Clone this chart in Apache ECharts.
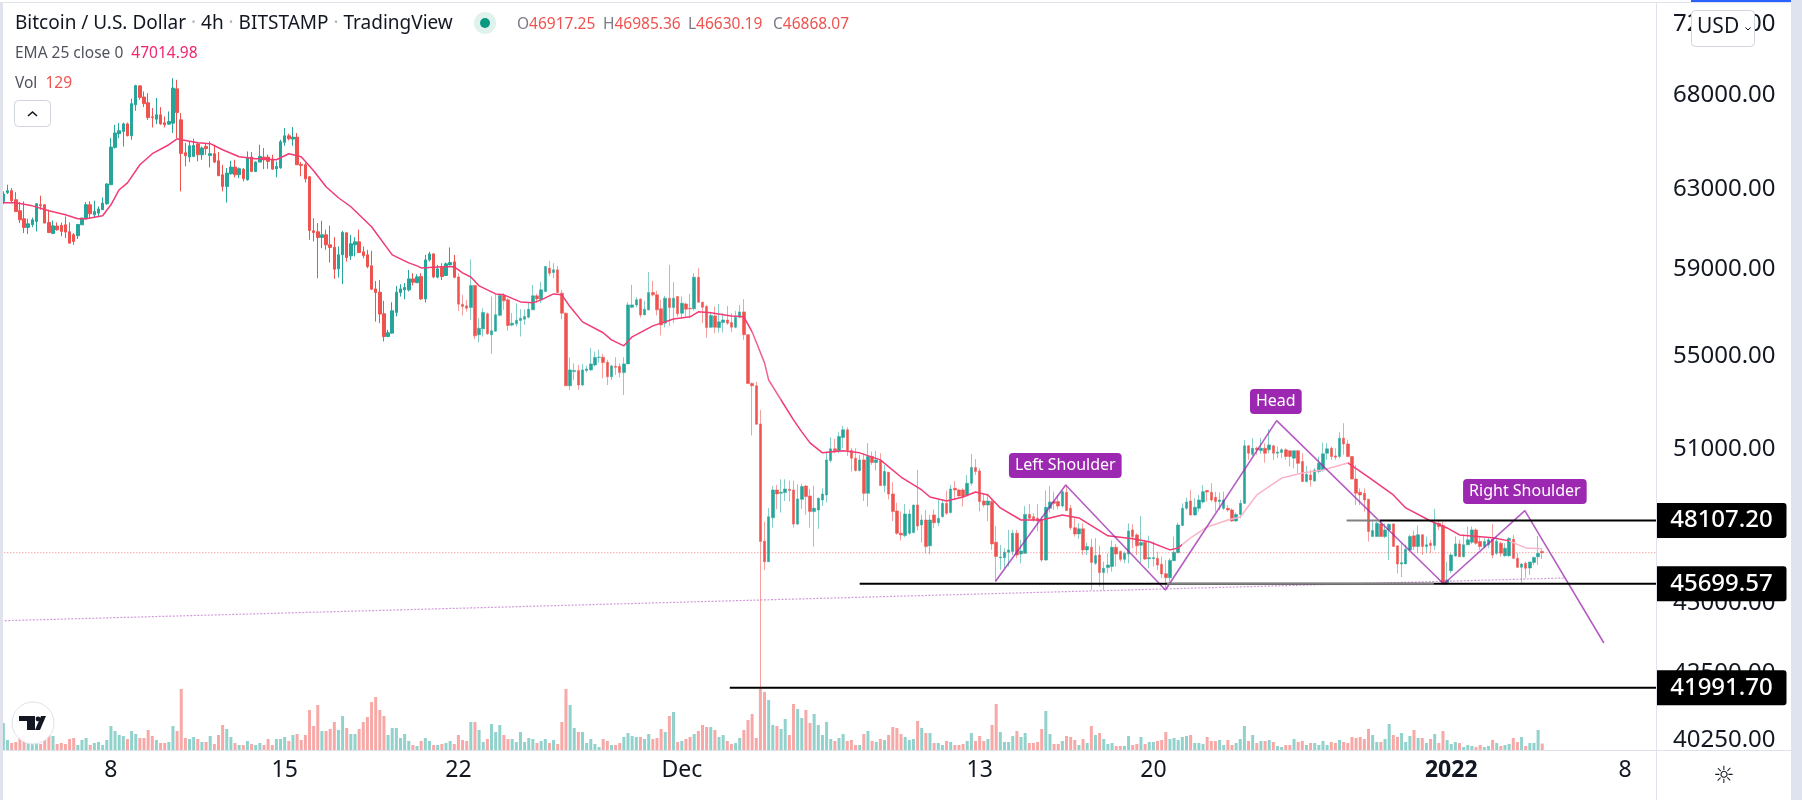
<!DOCTYPE html>
<html lang="en">
<head>
<meta charset="UTF-8">
<style>
  html, body { margin: 0; padding: 0; background: #fff; }
  #chart { width: 1802px; height: 800px; }
</style>
<script src="https://cdn.jsdelivr.net/npm/echarts@6/dist/echarts.min.js"></script>
</head>
<body>
<div id="chart"></div>
<script>
// open, close, low, high of each 4h bar
const ohlc = [
[62355,62730,62220,62865],[62800,62900,62730,63205],[62900,62390,62270,63035],[62440,61850,61815,62830],[61885,61430,61265,62320],
[61480,61050,60770,62355],[61050,61230,60720,61480],[61180,61430,61065,61545],[61345,62235,60850,62270],[62185,62135,61935,62645],
[62185,61265,61265,62220],[61295,60800,60770,61935],[60755,61130,60720,61395],[61115,60935,60885,61295],[61150,60850,60610,61295],
[61180,60820,60530,61595],[60835,60275,60275,61295],[60690,60360,60195,60770],[60640,61195,60480,61230],[61180,61515,61180,61545],
[61480,62185,61430,62320],[62185,61730,61515,62355],[61680,61850,61515,62390],[61765,61970,61595,62100],[61935,62270,61935,62560],
[62235,63240,62185,63290],[63205,65170,63205,65650],[65155,65920,65085,66360],[65885,66040,65650,66450],[66005,66410,65205,66480],
[66410,65775,65740,66480],[65775,67510,65560,67780],[67450,68510,67120,68550],[68495,67855,67725,68510],[67875,67510,67320,68185],
[67560,66755,66630,68090],[66790,66755,66220,67270],[66665,66900,66395,67820],[66900,66410,66360,67320],[66470,66360,66220,66810],
[66395,66540,66360,67085],[66450,68370,65920,68925],[68330,67030,65650,68830],[66630,64835,62865,66995],[64870,64710,64155,65385],
[64645,65240,64380,65470],[64680,65260,64630,65615],[65330,64765,64415,65420],[64765,65120,64500,65205],[65205,65085,64765,65330],
[64730,64820,64100,65470],[64820,64380,64330,65295],[64450,63670,63670,64905],[63720,63120,62865,64240],[63120,63805,62300,64070],
[63770,64120,63720,64450],[64120,63720,63585,64500],[63720,64035,63550,64100],[64000,63515,63380,64070],[63465,64630,63410,64940],
[64645,63890,63855,64905],[63890,64380,63855,64415],[64380,64680,64380,65295],[64640,64500,64015,65120],[64640,64415,64030,64765],
[64500,64015,63980,64765],[64030,64155,63590,64415],[64085,65455,64030,65560],[65420,65770,65240,66185],[65770,65615,65525,65880],
[65595,65700,65240,66240],[65700,64240,64240,65915],[64260,64205,63640,64380],[64240,63510,63320,64330],[63615,60900,60440,63640],
[60885,60800,60360,61510],[60835,60555,58580,61265],[60555,60685,60030,61380],[60685,60195,59950,60935],[60195,60065,59330,61135],
[60080,59010,58550,60570],[59030,59705,58610,60115],[59705,60800,58310,60885],[60785,59575,59380,60800],[59655,60245,59460,60685],
[60195,60340,59625,60570],[60340,59820,59785,60935],[59850,59670,59540,60115],[59705,59140,59060,59950],[59175,58060,58030,59900],
[58075,57905,56550,58450],[57920,56900,56480,58500],[56915,55870,55645,57515],[55870,56040,55840,56175],[56025,57050,55995,57450],
[56975,57920,56790,58215],[57905,58075,57715,58295],[58030,58140,57590,58345],[58030,58550,57950,58980],[58550,58390,58235,58820],
[58370,58645,58345,58770],[58660,57605,57560,58820],[57605,59460,57435,59705],[59460,59750,59380,59850],[59750,58645,58580,59785],
[58630,59030,58580,59220],[59110,58660,58500,59300],[58710,59270,58690,59330],[59220,59330,59190,60065],[59365,58630,58580,59705],
[58645,57360,57050,58820],[57360,57250,56835,57795],[57280,57170,57020,57560],[57200,58235,56630,59490],[58235,55900,55750,58265],
[55945,56250,55600,56705],[56220,56975,55870,57170],[56915,55995,55945,56975],[55945,56130,55090,57715],[56115,56870,56100,57795],
[56840,57765,56790,57825],[57765,57515,57095,57875],[57560,56375,56130,57640],[56390,56480,56330,56945],[56450,56615,56330,57405],
[56600,56705,55870,57125],[56660,56785,56400,57125],[56755,57125,56705,57435],[57095,57750,57095,58265],[57750,57605,57405,57840],
[57590,58030,57405,58420],[57950,59140,57950,59170],[59060,58820,58690,59410],[58850,58980,58580,59300],[58980,57905,57875,59170],
[57875,56940,56660,58030],[56940,53680,53680,56970],[53680,54375,53495,54925],[54300,54345,53930,54670],[54345,53710,53495,54595],
[53710,54375,53680,54640],[54345,54420,54255,54565],[54375,54640,54345,55345],[54595,54925,54520,55195],[54925,54940,54700,55270],
[54940,54700,54000,55090],[54715,54075,53710,54820],[54075,54550,53930,54595],[54535,54490,54150,54940],[54535,54255,54045,54670],
[54255,54640,53280,54940],[54640,57325,54640,57450],[57215,57325,57170,58265],[57325,57560,57215,57685],[57590,56860,56740,57640],
[56860,57125,56860,57515],[57095,57905,57065,58870],[57905,57795,57715,58455],[57795,57095,56830,57985],[57140,56400,55925,57560],
[56480,57640,56280,57750],[57640,57200,56360,59220],[57200,57640,56480,58390],[57715,56910,56785,57715],[56940,57405,56705,57715],
[57370,57125,56785,57435],[57170,57140,56705,57840],[57140,58630,57065,58820],[58630,57450,57435,59060],[57450,57215,56480,57480],
[57250,56280,55820,57325],[56295,56830,56250,57015],[56815,56295,56025,57250],[56280,56540,56055,57370],[56510,56630,56055,56940],
[56630,56480,56400,57280],[56510,56295,56070,56940],[56295,56740,56250,57050],[56755,57000,56705,57325],[57000,55955,55720,57590],
[55955,53780,53750,55955],[53780,53680,51550,53825],[53680,52030,52000,53855],[52040,47295,41950,52635],[47310,46525,46215,48065],
[46525,48260,46525,48605],[48220,49320,47835,49480],[49320,49160,48550,49520],[49190,49230,48420,49750],[49215,49360,48880,49750],
[49345,49295,48855,49695],[49320,47970,47840,49695],[47970,48960,47935,49550],[48945,49455,48565,49560],[49480,49055,48330,49520],
[49080,48460,47830,49360],[48460,48590,47100,49495],[48525,48985,47785,49025],[48920,49160,48680,49385],[49120,50540,48815,50885],
[50510,50995,50430,51480],[50995,50915,50815,51410],[50915,51510,50815,51690],[51465,51790,51020,51960],[51790,50930,50700,51900],
[50930,50610,50065,51020],[50610,50105,50065,51020],[50105,50540,50065,50745],[50540,49185,48880,50815],[49185,50680,48655,51230],
[50680,50430,50335,50885],[50430,50540,50105,50915],[50510,49495,49480,50815],[49495,50065,49225,50335],[50035,49160,48945,50035],
[49160,48460,48090,49630],[48485,47615,47550,48815],[47615,47550,47335,48460],[47525,48365,47460,48760],[47615,48365,47550,48550],
[47640,48720,47615,48720],[48720,47895,47720,50130],[47935,48130,47255,48330],[48130,47100,46845,48525],[47130,48130,46810,48330],
[48330,48025,47810,48550],[48025,48195,47895,48920],[48260,48785,48235,48920],[48785,48395,48330,49295],[48420,49360,48395,49520],
[49385,49320,48920,49680],[49320,49080,49055,49360],[49320,49055,48655,49385],[49120,49590,49080,49925],[49590,50230,49495,50790],
[50230,50065,49925,50570],[50090,48855,48460,50200],[48880,48720,48630,49160],[48720,48880,48090,49185],[48855,47205,46975,48985],
[47270,46720,45790,47895],[46680,46705,46215,47165],[46680,46885,46280,47040],[46885,46975,46345,47745],[46910,47615,46780,47745],
[47615,46780,46655,47745],[46820,46935,46465,47360],[46845,48350,46820,48680],[48350,48195,48155,48760],[48260,48130,48065,48395],
[48195,48090,47680,48750],[48130,46590,46525,48260],[46590,48630,46565,49295],[48590,48840,48420,49480],[48855,48785,48525,49250],
[48855,48680,48550,49120],[48680,49250,48630,49295],[49225,48500,48500,49520],[48590,47830,47745,48720],[47830,47590,47485,48195],
[47590,47785,47400,48000],[47785,46975,46780,48000],[46975,47100,46780,47255],[47075,46500,45470,47400],[46465,46755,46400,47425],
[46780,46115,45595,47130],[46115,46280,45470,46525],[46305,46400,46090,46845],[46345,47075,46155,47335],[47075,46820,46345,47205],
[46910,46615,46525,46950],[46615,46845,46465,46910],[46820,47705,46465,48000],[47745,47485,47040,47970],[47550,47130,46780,47615],
[47155,47255,46490,48290],[47270,46630,46590,47360],[46640,46680,46280,47525],[46640,46680,46345,47295],[46655,46400,46215,46910],
[46430,46065,45905,46720],[46075,45925,45530,46590],[45925,46575,45780,46655],[46565,46885,46565,47485],[46870,47935,46845,48025],
[47920,48590,47895,48785],[48590,48840,48525,49015],[48880,48330,48300,49320],[48330,48630,48300,48985],[48590,48920,48460,49120],
[48840,49250,48785,49520],[49295,49240,48855,49320],[49225,48920,48855,49590],[49025,48855,48460,49250],[48855,48920,48525,49215],
[48590,48920,48525,49250],[48590,48525,48460,48720],[48525,48090,48065,48590],[48090,48350,48065,48420],[48350,48785,48195,48920],
[48785,51120,48760,51370],[51120,50815,50540,51160],[50775,51020,50700,51440],[51020,50955,50745,51090],[50930,51020,50790,51440],
[51020,50815,50430,51230],[50955,51160,50815,51820],[51120,50815,50540,51160],[50815,50860,50610,51090],[50845,50955,50610,51020],
[50955,50680,50540,51020],[50915,50680,50265,50930],[50610,50915,50200,50930],[50915,50400,50000,50955],[50470,49655,49655,50815],
[49655,49950,49625,50295],[49925,49720,49450,50130],[49680,50130,49655,50200],[50065,50405,49995,50680],[50130,50790,50065,51260],
[50815,50995,50540,51230],[51020,50680,50540,51090],[50705,50650,50540,51020],[50680,51440,50610,51690],[51440,51200,50750,52070],
[51200,50680,50650,51370],[50680,49760,49750,50680],[49760,49190,48720,50335],[49225,49120,48720,49385],[49190,48920,48460,49385],
[48950,47680,47295,48950],[47490,47720,47490,48065],[47490,48000,47490,48065],[47975,47490,47465,48065],[47490,47745,47425,48000],
[47745,47960,46590,48000],[47975,47105,47105,48000],[47130,46440,46090,47145],[46440,46490,45945,47230],[46440,47000,46440,47170],
[46975,47490,46915,47555],[47515,47105,46975,47720],[47105,47555,46850,47915],[47555,47105,46780,47580],[47105,47170,46850,47490],
[47230,47145,46850,47360],[47145,48025,46975,48565],[48000,47875,47745,48130],[47915,45690,45690,48065],[45690,45840,45655,46530],
[46190,46780,46090,46850],[46745,47205,46715,47490],[47205,46715,46715,47360],[46715,47170,46690,47555],[47170,47360,47170,47875],
[47270,47745,47205,47875],[47745,47230,47170,47810],[47295,47105,46975,47490],[47105,47295,47040,47425],[47170,47360,47040,47465],
[47385,46780,46655,47975],[46850,47310,46780,47490],[47230,46850,46715,47295],[46755,47040,46715,47230],[46755,47410,46715,47465],
[47385,46655,46615,47555],[46655,46315,46280,46850],[46315,46440,45715,46465],[46465,46280,45905,46530],[46290,46515,46030,46515],
[46500,46690,46400,46715],[46715,46850,46400,47515],[46917,46868,46630,46985]
];

const volumes = [
540,200,140,160,260,300,160,160,160,120,200,300,280,120,140,120,220,240,100,200,
240,100,140,160,100,200,480,380,300,280,220,380,320,240,240,400,280,200,140,140,
160,480,380,1220,240,220,260,220,160,160,280,120,300,500,420,260,140,100,100,180,
120,100,140,100,220,100,220,220,260,180,300,320,200,300,800,480,900,380,380,420,
560,400,680,440,320,320,420,560,660,960,1060,800,680,300,440,440,240,320,180,100,
80,180,240,180,100,100,120,140,180,120,300,200,180,560,560,400,160,220,520,360,
500,300,220,220,160,360,160,240,220,140,180,220,140,200,120,560,1220,900,440,360,
360,140,220,120,60,220,180,100,100,140,260,340,280,260,260,220,320,220,240,420,
360,680,760,160,180,220,260,320,380,500,460,460,400,260,300,180,120,140,240,400,
600,720,240,1220,1160,1000,500,480,420,620,300,920,820,640,800,540,720,500,300,560,
220,180,240,320,180,200,100,100,320,380,180,160,220,200,300,460,440,
320,260,200,220,580,440,340,340,140,140,100,180,160,100,100,120,180,340,180,280,
180,220,500,920,360,160,160,280,380,260,340,140,140,160,420,780,320,120,120,180,
280,260,200,100,220,140,480,300,340,220,120,140,80,80,80,280,100,120,260,120,
160,160,180,200,360,220,240,200,260,280,300,140,140,120,260,180,180,200,100,200,
100,140,220,480,180,300,140,180,180,200,160,80,60,100,100,220,160,180,100,140,
140,100,180,100,160,140,200,160,140,260,240,260,220,420,300,160,160,220,520,300,
260,340,160,280,400,240,240,140,220,320,140,380,200,120,160,140,60,100,80,60,
100,60,80,200,140,80,100,120,240,160,260,80,140,140,400,129
];

// EMA 25 read at the bars where the curve bends
const emaBars = [0,3,7,11,15,18,20,24,26,28,30,33,36,40,42,43,47,50,53,57,61,62,66,69,72,75,78,81,84,86,89,94,98,100,101,106,109,111,113,115,119,121,125,128,130,133,135,137,140,145,147,150,152,157,162,166,168,171,176,179,181,184,185,188,191,193,195,198,203,207,212,217,222,224,228,232,235,238,241,246,251,256,260,267,273,277,282,284,287,291,296,299,303,309,314,319,325,330,336,339,345,349,352,360,364,368,372];
const emaValues = [62285,62285,62130,61880,61680,61480,61480,61630,62185,62950,63305,64240,64820,65295,65610,65560,65400,65350,65030,64660,64555,64555,64500,64820,64660,63930,63100,62540,62085,61680,61085,59705,59315,59170,59075,59125,59125,58835,58640,58220,57840,57795,57465,57420,57560,57840,57795,57235,56540,56040,55720,55450,55855,56355,56675,56770,57005,56955,56815,56770,56085,54685,53930,53060,52210,51705,51245,50830,50915,50830,50540,49840,49320,49040,48880,49040,49240,49120,48605,48130,48130,48325,48210,47515,47400,47285,46975,47050,47440,47860,48130,48250,49120,49800,50005,50130,50415,49840,49120,48605,48090,47820,47550,47440,47320,47050,47015];

// price axis
const priceTicks = [40250,42500,45000,51000,55000,59000,63000,68000,72000];
const priceMin = 39924;
const priceMax = 73266;

// time axis: 4h bars from Nov 3 16:00 UTC, plus empty bars up to the axis edge
const barCount = 400;
const timeTicks = {'2021-11-08 00:00':'8','2021-11-15 00:00':'15','2021-11-22 00:00':'22','2021-12-01 00:00':'Dec','2021-12-13 00:00':'13','2021-12-20 00:00':'20','2022-01-01 00:00':'2022','2022-01-08 00:00':'8'};
const dates = [];
for (let i = 0; i < barCount; i++) {
    const d = new Date(Date.UTC(2021, 10, 3, 16) + i * 4 * 3600 * 1000);
    dates.push(d.toISOString().slice(0, 16).replace('T', ' '));
}

// horizontal levels with a black price tag on the axis
const levelPrices = [48107.20, 45699.57, 41991.70];
const levelStartBars = [332.7, 207, 175.6];
const levelGreyPieces = [[48107.20, 324.7, 332.7], [45699.57, 281.3, 345.8]];

// head and shoulders sketch, dotted trend line, last price
const zigzagBars = [239.8,256.8,280.9,307.8,348.2,367.8,386.9];
const zigzagPrices = [45780,49520,45470,52180,45690,48500,43552];
const trendBars = [-0.5,377.5];
const trendPrices = [44345,45915];
const lastClose = 46868.07;
const patternNames = ['Left Shoulder','Head','Right Shoulder'];
const patternBars = [256.7,307.6,367.8];
const patternPrices = [50315,52996,49260];

const up = '#26a69a';
const down = '#ef5350';
const font = '"Noto Sans", sans-serif';
const edgeBar = barCount - 0.5;

// wicks go paler from the middle of the chart on
const candleData = ohlc.map((row, i) => {
    const wick = i < 110 ? (row[1] >= row[0] ? up : down) : (row[1] >= row[0] ? 'rgba(38,166,154,0.55)' : 'rgba(239,83,80,0.55)');
    return { value: row, itemStyle: { borderColor: wick, borderColor0: wick, borderColorDoji: wick } };
});
const volumeData = volumes.map((v, i) => ({
    value: v,
    itemStyle: { color: ohlc[i][1] >= ohlc[i][0] ? 'rgba(38,166,154,0.5)' : 'rgba(239,83,80,0.5)' }
}));

function plainLine(name, data, style, z) {
    return { name: name, type: 'line', xAxisIndex: 2, yAxisIndex: 0, data: data, showSymbol: false, silent: true, animation: false, z: z, lineStyle: style };
}

const chart = echarts.init(document.getElementById('chart'), null, { renderer: 'canvas' });
chart.setOption({
    animation: false,
    backgroundColor: '#fff',
    grid: [
        { left: 1.3, width: 1654.7, top: 3, height: 747 },
        { left: 1.3, width: 1654.7, top: 650, height: 100 }
    ],
    xAxis: [
        { type: 'category', gridIndex: 0, data: dates, axisLine: { show: false }, axisTick: { show: false }, axisLabel: { show: false }, splitLine: { show: false } },
        {
            type: 'category', gridIndex: 1, data: dates,
            axisLine: { show: false }, axisTick: { show: false }, splitLine: { show: false },
            axisLabel: {
                interval: (index, value) => value in timeTicks,
                margin: 9,
                color: '#131722',
                fontFamily: font,
                fontSize: 23,
                formatter: value => value === '2022-01-01 00:00' ? '{b|2022}' : timeTicks[value],
                rich: { b: { fontWeight: 'bold', fontSize: 23, fontFamily: font, color: '#131722' } }
            }
        },
        { type: 'value', gridIndex: 0, min: -0.5, max: edgeBar, show: false }
    ],
    yAxis: [
        {
            type: 'log', gridIndex: 0, position: 'right', min: priceMin, max: priceMax, logBase: 10,
            axisLine: { show: false }, axisTick: { show: false }, splitLine: { show: false }, minorSplitLine: { show: false },
            axisLabel: {
                customValues: priceTicks,
                margin: 17,
                color: '#131722',
                fontFamily: font,
                fontSize: 24,
                formatter: v => Number(v).toFixed(2)
            }
        },
        { type: 'value', gridIndex: 1, min: 0, max: 2000, show: false }
    ],
    series: [
        {
            name: 'Vol', type: 'bar', xAxisIndex: 1, yAxisIndex: 1, data: volumeData, barWidth: 3, silent: true, z: 1
        },
        {
            name: 'BTCUSD', type: 'candlestick', xAxisIndex: 0, yAxisIndex: 0, data: candleData, barWidth: 3, silent: true, z: 2,
            itemStyle: { color: up, color0: down, borderColor: up, borderColor0: down, borderWidth: 1 }
        },
        plainLine('Last', [[-0.5, lastClose], [edgeBar, lastClose]], { color: 'rgba(239,83,80,0.75)', width: 1, type: [1, 2] }, 3),
        plainLine('Trend', trendBars.map((b, i) => [b, trendPrices[i]]), { color: 'rgba(171,71,188,0.55)', width: 1.2, type: [2, 1.5] }, 3),
        {
            name: 'EMA 25', type: 'line', xAxisIndex: 0, yAxisIndex: 0, showSymbol: false, silent: true, z: 4,
            data: emaBars.map((b, i) => [b, emaValues[i]]),
            lineStyle: { width: 1.5 }
        },
        plainLine('Zigzag', zigzagBars.map((b, i) => [b, zigzagPrices[i]]), { color: 'rgba(156,39,176,0.75)', width: 1.6 }, 5),
        ...levelPrices.map((p, i) => plainLine('Level ' + p, [[levelStartBars[i], p], [edgeBar, p]], { color: '#000', width: 2 }, 6)),
        ...levelGreyPieces.map(g => plainLine('Level overlay', [[g[1], g[0]], [g[2], g[0]]], { color: '#808080', width: 2 }, 7)),
        {
            name: 'Pattern', type: 'scatter', xAxisIndex: 2, yAxisIndex: 0, symbolSize: 1, silent: true, z: 8,
            itemStyle: { color: 'transparent', opacity: 1 },
            data: patternNames.map((n, i) => ({ name: n, value: [patternBars[i], patternPrices[i]] })),
            label: {
                show: true, position: 'inside', formatter: '{b}', color: '#fff', fontFamily: font, fontSize: 16, opacity: 1,
                backgroundColor: '#9c27b0', borderRadius: 4, padding: [4, 6], lineHeight: 17
            }
        },
        {
            name: 'Tags', type: 'scatter', xAxisIndex: 2, yAxisIndex: 0, symbolSize: 1, silent: true, z: 9,
            itemStyle: { color: 'transparent', opacity: 1 },
            data: levelPrices.map(p => [edgeBar, p]),
            label: {
                show: true, position: 'right', distance: 0, opacity: 1,
                formatter: params => '{t|' + params.value[1].toFixed(2) + '}',
                rich: {
                    t: {
                        color: '#fff', fontFamily: font, fontSize: 24, fontWeight: 500,
                        backgroundColor: '#000', borderRadius: [0, 3, 3, 0],
                        width: 130, height: 35, lineHeight: 35, align: 'center'
                    }
                }
            }
        }
    ],
    visualMap: {
        show: false, type: 'piecewise', seriesIndex: 4, dimension: 0,
        pieces: [
            { lte: 181, color: '#f23a73' },
            { gt: 181, lte: 188, color: '#f06292' },
            { gt: 188, lte: 285, color: '#f23a73' },
            { gt: 285, lte: 325, color: '#f9b4c8' },
            { gt: 325, lte: 364, color: '#f23a73' },
            { gt: 364, color: '#f9b4c8' }
        ]
    },
    graphic: [
        { type: 'rect', z: 50, shape: { x: 0, y: 0, width: 3, height: 800 }, style: { fill: '#e0e3eb' } },
        { type: 'rect', z: 50, shape: { x: 1791, y: 0, width: 11, height: 800 }, style: { fill: '#dfe3ef' } },
        { type: 'rect', z: 50, shape: { x: 0, y: 0, width: 1791, height: 3 }, style: { fill: '#fff' } },
        { type: 'rect', z: 51, shape: { x: 0, y: 2, width: 1791, height: 1 }, style: { fill: '#e0e3eb' } },
        { type: 'rect', z: 51, shape: { x: 1691, y: 0, width: 100, height: 2 }, style: { fill: '#2962ff' } },
        { type: 'rect', z: 50, shape: { x: 1656, y: 3, width: 1, height: 797 }, style: { fill: '#e0e3eb' } },
        { type: 'rect', z: 50, shape: { x: 3, y: 750, width: 1788, height: 1 }, style: { fill: '#e0e3eb' } },
        {
            type: 'text', z: 60, x: 15, y: 14,
            style: {
                text: 'Bitcoin / U.S. Dollar {s|·} 4h {s|·} BITSTAMP {s|·} TradingView',
                fill: '#131722', fontFamily: font, fontSize: 19,
                rich: { s: { fill: '#b2b5be', fontFamily: font, fontSize: 19 } }
            }
        },
        { type: 'circle', z: 60, shape: { cx: 485, cy: 23, r: 11 }, style: { fill: '#dff2ee' } },
        { type: 'circle', z: 61, shape: { cx: 485, cy: 23, r: 5 }, style: { fill: '#089981' } },
        ...[['O', '46917.25', 517], ['H', '46985.36', 603], ['L', '46630.19', 688], ['C', '46868.07', 773]].map(t => ({
            type: 'text', z: 60, x: t[2], y: 17,
            style: {
                text: t[0] + '{v|' + t[1] + '}', fill: '#787b86', fontFamily: font, fontSize: 15.5,
                rich: { v: { fill: '#ef5350', fontFamily: font, fontSize: 15.5 } }
            }
        })),
        {
            type: 'text', z: 60, x: 15, y: 46,
            style: {
                text: 'EMA 25 close 0  {v|47014.98}', fill: '#50535e', fontFamily: font, fontSize: 15.5,
                rich: { v: { fill: '#f0266f', fontFamily: font, fontSize: 15.5 } }
            }
        },
        {
            type: 'text', z: 60, x: 15, y: 76,
            style: {
                text: 'Vol  {v|129}', fill: '#50535e', fontFamily: font, fontSize: 15.5,
                rich: { v: { fill: '#ef5350', fontFamily: font, fontSize: 15.5 } }
            }
        },
        { type: 'rect', z: 60, shape: { x: 14.5, y: 100.5, width: 36, height: 26, r: 4 }, style: { fill: '#fff', stroke: '#d1d4dc', lineWidth: 1 } },
        { type: 'polyline', z: 61, shape: { points: [[28, 116], [32.5, 112], [37, 116]] }, style: { fill: 'none', stroke: '#131722', lineWidth: 1.6 } },
        // price scale currency button
        { type: 'rect', z: 60, shape: { x: 1691.5, y: 10.5, width: 63, height: 36, r: 4 }, style: { fill: '#fff', stroke: '#d1d4dc', lineWidth: 1 } },
        { type: 'text', z: 61, x: 1697, y: 17, style: { text: 'USD', fill: '#131722', fontFamily: font, fontSize: 21 } },
        { type: 'polyline', z: 61, shape: { points: [[1745.5, 27.5], [1748, 30], [1750.5, 27.5]] }, style: { fill: 'none', stroke: '#131722', lineWidth: 1 } },
        // settings sun
        { type: 'text', z: 60, x: 1724, y: 777, style: { text: '☼', fill: '#131722', fontFamily: '"DejaVu Sans"', fontSize: 24, align: 'center', verticalAlign: 'middle' } },
        // TradingView mark
        { type: 'circle', z: 60, shape: { cx: 33, cy: 723, r: 21 }, style: { fill: 'rgba(255,255,255,0.92)', stroke: '#e0e3eb', lineWidth: 1 } },
        { type: 'polygon', z: 61, shape: { points: [[19, 716], [35, 716], [35, 730], [27, 730], [27, 721], [19, 721]] }, style: { fill: '#131722' } },
        { type: 'circle', z: 61, shape: { cx: 38, cy: 719, r: 2.4 }, style: { fill: '#131722' } },
        { type: 'polygon', z: 61, shape: { points: [[41, 716], [46, 716], [40, 730], [35, 730]] }, style: { fill: '#131722' } }
    ]
});
</script>
</body>
</html>
